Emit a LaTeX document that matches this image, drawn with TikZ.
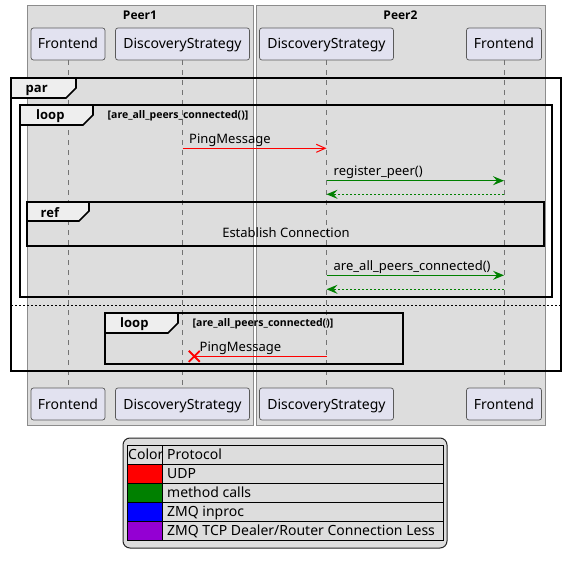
\documentclass[tikz,border=0pt]{standalone}
\usepackage{fontspec}
\setmainfont{Noto Sans}
\newfontfamily\headfont{Open Sans}
\usetikzlibrary{arrows.meta,calc}
\definecolor{peerbg}{HTML}{DDDDDD}
\definecolor{peerline}{HTML}{8C8C8C}
\definecolor{partbg}{HTML}{E2E2F0}
\definecolor{partline}{HTML}{5A5A5A}
\definecolor{tabbg}{HTML}{EEEEEE}
\definecolor{msggreen}{HTML}{008000}
\definecolor{tcpviolet}{HTML}{9400D3}
\begin{document}
\begin{tikzpicture}[x=1pt,y=-1pt,
  peerbox/.style={fill=peerbg, draw=peerline, line width=1pt},
  peertitle/.style={font=\headfont\bfseries\fontsize{12}{14}\selectfont, inner sep=0pt, text height=8.6pt, text depth=0pt},
  part/.style={draw=partline, fill=partbg, rounded corners=2.5pt, line width=0.7pt,
    minimum height=32pt, inner sep=0pt, text height=10pt, text depth=0pt,
    font=\fontsize{14}{16}\selectfont},
  lifeline/.style={draw=black!55, line width=0.7pt, dash pattern=on 5pt off 5pt},
  framebox/.style={draw=black, line width=1.6pt},
  tabshape/.style={draw=black, line width=1.6pt, fill=tabbg, line join=miter},
  tablabel/.style={font=\headfont\bfseries\fontsize{13}{15}\selectfont, inner sep=0pt, anchor=west, text height=9.3pt, text depth=0pt},
  guard/.style={font=\headfont\bfseries\fontsize{10.5}{13}\selectfont, inner sep=0pt, anchor=west, text height=7.6pt, text depth=0pt},
  msg/.style={font=\fontsize{13}{15}\selectfont, inner sep=0pt, anchor=west, text height=9.3pt, text depth=0pt},
  legtext/.style={font=\fontsize{14}{16}\selectfont, inner sep=0pt, anchor=west, text height=10pt, text depth=0pt},
  call/.style={draw=msggreen, line width=1pt, -{Stealth[length=11pt,width=9pt,inset=4pt]}},
  reply/.style={call, dash pattern=on 2pt off 2pt},
  udp/.style={draw=red, line width=1pt, -{Straight Barb[length=9pt,width=8pt]}},
  lost/.style={draw=red, line width=1pt},
  sep/.style={draw=black, line width=1pt, dash pattern=on 2pt off 2pt},
]
\useasboundingbox (0,0) rectangle (567,567);
\fill[white] (0,0) rectangle (567,567);

% peer boxes
\draw[peerbox] (27,6) rectangle (253,425);
\draw[peerbox] (256,6) rectangle (545,425);
\node[peertitle] (peer1) at (140,15.5) {Peer1};
\node[peertitle] (peer2) at (400.5,15.5) {Peer2};

% participants, top and bottom
\node[part, minimum width=74pt]  (f1top)  at (68,44) {Frontend};
\node[part, minimum width=134pt] (ds1top) at (182.5,44) {DiscoveryStrategy};
\node[part, minimum width=134pt] (ds2top) at (326.5,44) {DiscoveryStrategy};
\node[part, minimum width=75pt]  (f2top)  at (504,44) {Frontend};
\node[part, minimum width=74pt]  (f1bot)  at (68,404) {Frontend};
\node[part, minimum width=134pt] (ds1bot) at (182.5,404) {DiscoveryStrategy};
\node[part, minimum width=134pt] (ds2bot) at (326.5,404) {DiscoveryStrategy};
\node[part, minimum width=75pt]  (f2bot)  at (504,404) {Frontend};

% lifelines
\draw[lifeline] (f1top) -- (f1bot);
\draw[lifeline] (ds1top) -- (ds1bot);
\draw[lifeline] (ds2top) -- (ds2bot);
\draw[lifeline] (f2top) -- (f2bot);

% par frame
\draw[framebox] (11,78) rectangle (561,371);
\draw[tabshape] (11,78) -- (76,78) -- (76,88) -- (66,98) -- (11,98) -- cycle;
\node[tablabel] (parlbl) at (25.5,88) {par};
\draw[sep] (11,305) -- (561,305);

% first loop
\draw[framebox] (20,105) rectangle (552,297);
\draw[tabshape] (20,105) -- (93,105) -- (93,115) -- (83,125) -- (20,125) -- cycle;
\node[tablabel] (loop1lbl) at (36,115) {loop};
\node[guard] (loop1guard) at (107.5,115) {[are\_all\_peers\_connected()]};

% messages inside first loop
\coordinate (ping-a) at (182.5,148.3);
\coordinate (ping-b) at (326.5,148.3);
\draw[udp] (ping-a) -- (ping-b);
\node[msg] (pinglbl) at (189,138.5) {PingMessage};

\coordinate (reg-a) at (326.5,180.7);
\coordinate (reg-b) at (504,180.7);
\draw[call] (reg-a) -- (reg-b);
\node[msg] (reglbl) at (333.5,171) {register\_peer()};
\coordinate (regr-a) at (504,194.3);
\coordinate (regr-b) at (326.5,194.3);
\draw[reply] (regr-a) -- (regr-b);

% ref frame
\draw[framebox] (27,202) rectangle (544,246);
\draw[tabshape] (27,202) -- (89,202) -- (89,211) -- (79,221) -- (27,221) -- cycle;
\node[tablabel] (reflbl) at (40.5,213) {ref};
\node[msg, anchor=center] (reftext) at (286,233) {Establish Connection};

\coordinate (all-a) at (326.5,275.3);
\coordinate (all-b) at (504,275.3);
\draw[call] (all-a) -- (all-b);
\node[msg] (alllbl) at (333.5,265.8) {are\_all\_peers\_connected()};
\coordinate (allr-a) at (504,289.3);
\coordinate (allr-b) at (326.5,289.3);
\draw[reply] (allr-a) -- (allr-b);

% second loop
\draw[framebox] (105,313) rectangle (403,364);
\draw[tabshape] (105,313) -- (178,313) -- (178,323) -- (168,333) -- (105,333) -- cycle;
\node[tablabel] (loop2lbl) at (120,323) {loop};
\node[guard] (loop2guard) at (192.5,323) {[are\_all\_peers\_connected()]};

% lost ping
\coordinate (lost-a) at (326.5,356.3);
\coordinate (lost-x) at (194.3,356.3);
\draw[lost] (lost-a) -- (lost-x);
\draw[red, line width=1.8pt] ($(lost-x)+(-5.5,-5.5)$) -- ($(lost-x)+(5.5,5.5)$)
  ($(lost-x)+(-5.5,5.5)$) -- ($(lost-x)+(5.5,-5.5)$);
\node[msg] (lostlbl) at (199.5,346.7) {PingMessage};

% legend
\draw[draw=black!85, fill=peerbg, line width=1pt, rounded corners=7pt] (123,438) rectangle (447,548);
\fill[red] (127,464) rectangle (162,483);
\fill[msggreen] (127,483) rectangle (162,502);
\fill[blue] (127,502) rectangle (162,521);
\fill[tcpviolet] (127,521) rectangle (162,540);
\draw[black, line width=1pt] (127,445) rectangle (443,540);
\foreach \yy in {464,483,502,521} \draw[black, line width=1pt] (127,\yy) -- (443,\yy);
\draw[black, line width=1pt] (162,445) -- (162,540);
\node[legtext] (lgcolor) at (128,454.5) {Color};
\node[legtext] (lgproto) at (167,454.5) {Protocol};
\node[legtext] (lgudp)   at (167,473.5) {UDP};
\node[legtext] (lgcalls) at (167,492.5) {method calls};
\node[legtext] (lginproc) at (167,511.5) {ZMQ inproc};
\node[legtext] (lgtcp)   at (167,530.5) {ZMQ TCP Dealer/Router Connection Less};
\end{tikzpicture}
\end{document}
